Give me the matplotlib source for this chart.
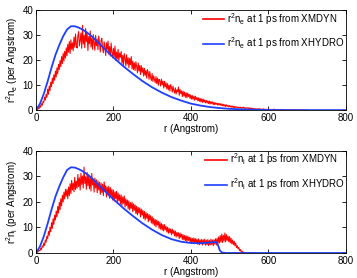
import numpy as np
import matplotlib
matplotlib.use("Agg")
import matplotlib.pyplot as plt

plt.rcParams['font.family'] = ['Liberation Sans', 'DejaVu Sans']
plt.rcParams['mathtext.default'] = 'regular'

r_red_e = np.arange(0, 702, 2)
ne_xmdyn = [
    0, 0.3, 0.2, 0.9, 0.6,  1.8, 1.1, 2.6, 1.9, 3.5,
    3.1, 5.2, 4.0, 6.3, 5.1,  8.4, 6.3, 9.6, 7.8, 11.2,
    9.4, 12.8, 10.6, 14.1, 11.9,  15.6, 13.2, 16.9, 14.5, 18.3,
    16.2, 19.8, 17.3, 21.4, 18.6,  22.7, 19.6, 23.5, 20.8, 24.9,
    21.7, 26.3, 23.1, 27.4, 22.6,  28.1, 24.3, 26.9, 23.7, 29.2,
    25.1, 30.4, 26.2, 24.8, 29.7,  31.3, 25.6, 27.9, 30.8, 24.7,
    33.9, 26.4, 29.8, 24.9, 32.6,  27.3, 30.9, 23.8, 29.4, 26.5,
    31.6, 25.2, 28.7, 24.3, 30.2,  26.8, 23.9, 29.9, 25.7, 28.4,
    24.1, 29.6, 26.9, 23.2, 27.8,  28.7, 24.6, 22.9, 27.3, 25.1,
    21.8, 26.9, 24.2, 27.6, 22.3,  25.4, 21.6, 26.8, 23.1, 20.9,
    24.7, 21.3, 25.6, 19.8, 23.2,  20.4, 24.3, 19.6, 22.8, 21.1,
    23.4, 18.7, 21.9, 17.9, 22.6,  20.8, 17.6, 22.1, 18.4, 20.9,
    16.9, 20.7, 18.1, 21.4, 16.4,  19.6, 16.2, 18.9, 15.8, 19.3,
    17.4, 14.9, 18.8, 15.6, 17.9,  14.2, 17.8, 15.1, 16.9, 13.6,
    16.7, 13.9, 15.8, 12.8, 16.2,  14.9, 12.3, 15.4, 13.1, 11.8,
    14.6, 11.4, 13.7, 12.2, 10.9,  13.4, 10.6, 12.8, 9.9, 12.3,
    11.7, 9.6, 12.4, 10.1, 11.6,  8.8, 11.5, 9.3, 10.9, 8.4,
    10.6, 8.1, 9.9, 7.6, 10.2,  9.1, 7.2, 9.6, 7.9, 6.8,
    8.9, 6.4, 8.1, 7.3, 9.2,  5.9, 8.3, 6.6, 7.7, 5.4,
    7.6, 5.6, 7.2, 5.1, 6.9,  4.9, 6.8, 5.4, 6.3, 4.6,
    6.1, 4.4, 5.8, 4.3, 5.6,  3.9, 5.5, 4.2, 5.1, 3.7,
    4.9, 3.5, 4.7, 3.3, 4.5,  3.1, 4.4, 3.2, 4.1, 2.9,
    3.9, 2.8, 3.7, 2.6, 3.6,  2.4, 3.4, 2.6, 3.3, 2.2,
    3.1, 2.1, 2.9, 2.3, 2.8,  1.9, 2.7, 2.1, 2.6, 1.8,
    2.5, 1.7, 2.3, 1.6, 2.2,  1.4, 2.1, 1.5, 1.9, 1.3,
    1.8, 1.2, 1.7, 1.1, 1.6,  1.0, 1.5, 0.9, 1.4, 1.1,
    1.3, 0.8, 1.2, 0.9, 1.2,  0.7, 1.1, 0.8, 1.2, 0.7,
    1.0, 0.6, 0.9, 0.7, 1.0,  0.5, 0.9, 0.6, 0.8, 0.4,
    0.7, 0.4, 0.6, 0.3, 0.6,  0.3, 0.5, 0.3, 0.6, 0.2,
    0.5, 0.2, 0.4, 0.3, 0.5,  0.2, 0.4, 0.2, 0.3, 0.1,
    0.4, 0.2, 0.3, 0.1, 0.3,  0.1, 0.3, 0.2, 0.4, 0.1,
    0.2, 0.1, 0.3, 0.1, 0.2,  0.1, 0.2, 0.1, 0.3, 0.1,
    0.1, 0.2, 0.0, 0.1, 0.2,  0.0, 0.1, 0.1, 0.0, 0.2,
    0.1, 0.0, 0.1, 0.1, 0.0,  0.0, 0.1, 0.0, 0.1, 0.0,
    0.0, 0.0, 0.1, 0.0, 0.0,  0.0, 0.1, 0.0, 0.0, 0.0,
    0,
]
r_red_i = np.arange(0, 562, 2)
ni_xmdyn = [
    0, 0.2, 0.4, 0.7, 1.0,  0.8, 1.9, 1.3, 2.8, 2.2,
    3.9, 2.9, 5.1, 4.2, 6.6,  5.6, 8.4, 6.9, 10.1, 8.2,
    11.9, 9.6, 13.4, 11.2, 14.8,  12.9, 16.4, 14.1, 18.2, 15.6,
    19.8, 16.9, 21.2, 18.4, 22.6,  19.9, 23.8, 21.1, 24.9, 22.2,
    24.9, 21.2, 25.8, 22.4, 27.1,  23.2, 28.4, 24.6, 27.3, 23.9,
    29.6, 24.8, 28.1, 25.3, 30.7,  25.9, 29.4, 24.6, 31.2, 26.8,
    30.1, 25.4, 33.6, 27.2, 29.8,  24.9, 31.5, 26.3, 30.4, 25.1,
    29.7, 24.2, 31.1, 26.6, 28.9,  23.8, 29.3, 25.4, 28.6, 23.5,
    28.2, 24.6, 27.7, 22.9, 27.4,  23.6, 26.9, 22.4, 27.8, 24.1,
    26.3, 21.9, 25.8, 22.6, 26.1,  21.4, 25.6, 22.1, 24.9, 20.7,
    24.6, 20.3, 23.9, 21.2, 24.1,  19.6, 23.5, 20.4, 22.8, 19.1,
    22.7, 18.6, 21.9, 19.4, 22.3,  17.9, 21.2, 18.6, 20.7, 17.2,
    20.4, 16.8, 19.7, 17.4, 19.9,  16.1, 19.2, 16.7, 18.8, 15.4,
    18.3, 14.9, 17.8, 15.6, 17.6,  14.1, 17.2, 14.8, 16.7, 13.5,
    16.3, 12.9, 15.8, 13.6, 15.4,  12.2, 15.1, 12.8, 14.6, 11.7,
    14.2, 11.3, 13.6, 10.8, 13.1,  10.2, 12.9, 10.9, 12.4, 9.6,
    12.1, 9.3, 11.5, 8.9, 11.2,  8.6, 11.1, 9.1, 10.4, 8.2,
    10.1, 7.7, 9.6, 7.9, 9.4,  7.1, 9.3, 7.6, 8.8, 6.7,
    8.6, 6.2, 8.1, 6.6, 7.9,  5.6, 7.8, 6.1, 7.4, 5.3,
    7.2, 5.1, 6.9, 4.8, 6.7,  4.4, 6.6, 4.9, 6.2, 4.2,
    6.0, 3.9, 5.7, 4.1, 5.9,  3.6, 5.6, 3.9, 5.4, 3.4,
    5.5, 3.2, 5.1, 3.6, 5.3,  3.1, 5.2, 3.5, 5.4, 3.0,
    5.0, 3.2, 5.3, 2.9, 4.9,  3.1, 5.4, 3.3, 5.1, 2.8,
    5.2, 3.4, 5.6, 3.1, 5.8,  3.6, 6.3, 3.9, 6.8, 4.2,
    7.4, 4.1, 6.9, 4.6, 7.8,  4.3, 7.2, 4.9, 6.6, 4.4,
    6.4, 3.9, 5.8, 3.6, 5.1,  3.2, 4.6, 2.8, 3.9, 2.1,
    2.9, 1.6, 2.2, 0.9, 1.4,  0.5, 0.8, 0.3, 0.4, 0.1,
    0.2, 0.0, 0.1, 0.0, 0.0,  0, 0, 0, 0, 0,
    0,
]

# blue: XHYDRO
r_blue_e = [0, 10, 20, 30, 40, 50, 60, 70, 80, 90, 100, 110, 120, 130, 140,
            150, 160, 170, 180, 190, 200, 225, 250, 275, 300, 325, 350, 375,
            400, 425, 450, 475, 500, 550, 600, 650, 800]
ne_xhydro = [0, 2.5, 6.5, 11.5, 17, 22, 26, 29.5, 32.2, 33.5, 33.5, 33, 32.2,
             31.2, 30, 28.6, 27.1, 25.5, 24, 22.5, 21, 17.6, 14.5, 11.6, 9.1,
             7, 5.2, 3.8, 2.6, 1.8, 1.2, 0.8, 0.5, 0.2, 0.05, 0, 0]
r_blue_i = [0, 10, 20, 30, 40, 50, 60, 70, 80, 90, 100, 110, 120, 130, 140,
            150, 160, 170, 180, 190, 200, 225, 250, 275, 300, 325, 350, 375,
            400, 425, 450, 465, 470, 475, 480, 490, 800]
ni_xhydro = [0, 2.5, 6.5, 11.5, 17, 22, 26, 29.5, 32.4, 33.5, 33.4, 32.8, 32,
             31, 29.8, 28.4, 26.9, 25.4, 23.9, 22.4, 21, 17.6, 14.5, 11.6, 9.1,
             7, 5.4, 4.4, 3.9, 3.8, 4.1, 4.3, 3.2, 1, 0.2, 0, 0]

fig = plt.figure(figsize=(3.57, 2.78), dpi=100)
ax1 = fig.add_axes([0.101, 0.604, 0.867, 0.36])
ax2 = fig.add_axes([0.101, 0.090, 0.867, 0.368])

panels = [
    (ax1, r_red_e, ne_xmdyn, r_blue_e, ne_xhydro, 'e'),
    (ax2, r_red_i, ni_xmdyn, r_blue_i, ni_xhydro, 'i'),
]
for ax, rr, red, rb, blue, s in panels:
    ax.plot(rr, red, color='red', lw=0.75,
            label='r$^2$n$_%s$ at 1 ps from XMDYN' % s)
    ax.plot(rb, blue, color='#1f3fff', lw=1.3,
            label='r$^2$n$_%s$ at 1 ps from XHYDRO' % s)
    ax.set_xlim(0, 800)
    ax.set_ylim(0, 40)
    ax.set_xticks([0, 200, 400, 600, 800])
    ax.set_yticks([0, 10, 20, 30, 40])
    ax.tick_params(direction='in', top=True, right=True, labelsize=7,
                   length=3, width=0.6, pad=2)
    for sp in ax.spines.values():
        sp.set_linewidth(0.6)
    ax.set_xlabel('r (Angstrom)', fontsize=7, labelpad=1)
    ax.set_ylabel('r$^2$n$_%s$ (per Angstrom)' % s, fontsize=7, labelpad=2)
    leg = ax.legend(loc='upper right', frameon=False, fontsize=7,
                    handlelength=2.2, handletextpad=0.3, labelspacing=0.9,
                    borderaxespad=0.0, borderpad=0.1)
    for h in leg.get_lines():
        h.set_linewidth(1.2)

fig.savefig('out.png', dpi=100)
